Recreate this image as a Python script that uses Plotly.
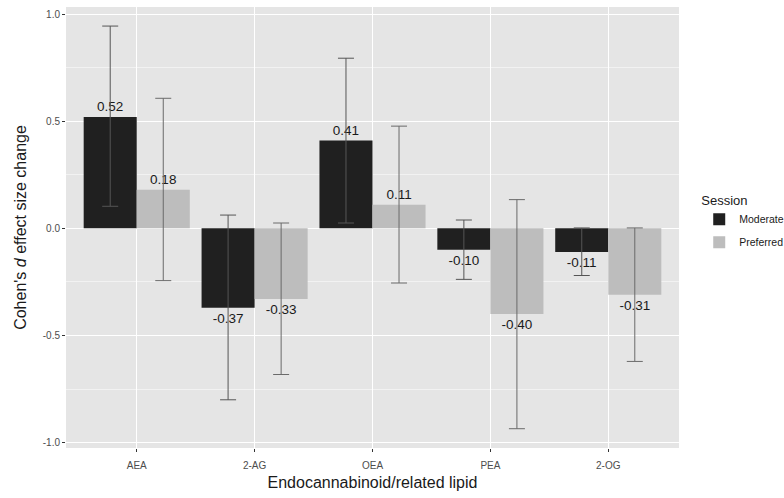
import plotly.graph_objects as go

categories = ["AEA", "2-AG", "OEA", "PEA", "2-OG"]
moderate = [0.52, -0.37, 0.41, -0.10, -0.11]
preferred = [0.18, -0.33, 0.11, -0.40, -0.31]
mod_upper = [0.944, 0.062, 0.794, 0.039, 0.002]
mod_lower = [0.103, -0.800, 0.025, -0.238, -0.220]
pref_upper = [0.607, 0.025, 0.477, 0.134, 0.002]
pref_lower = [-0.244, -0.682, -0.255, -0.935, -0.621]

def errs(vals, up, lo):
    return [u - v for u, v in zip(up, vals)], [v - l for v, l in zip(vals, lo)]

mu, ml = errs(moderate, mod_upper, mod_lower)
pu, pl = errs(preferred, pref_upper, pref_lower)

font = "Liberation Sans, Arial, sans-serif"
fig = go.Figure()
fig.add_trace(go.Bar(
    x=categories, y=moderate, name="Moderate", legendgroup="m",
    marker=dict(color="#202020", line=dict(width=0)),
    text=[f"{v:.2f}" for v in moderate], textposition="outside",
    textfont=dict(size=13.5, color="#1a1a1a", family=font),
    cliponaxis=False,
    error_y=dict(type="data", symmetric=False, array=mu, arrayminus=ml,
                 color="#555555", thickness=1, width=8),
))
fig.add_trace(go.Bar(
    x=categories, y=preferred, name="Preferred", legendgroup="p",
    marker=dict(color="#bdbdbd", line=dict(width=0)),
    text=[f"{v:.2f}" for v in preferred], textposition="outside",
    textfont=dict(size=13.5, color="#1a1a1a", family=font),
    cliponaxis=False,
    error_y=dict(type="data", symmetric=False, array=pu, arrayminus=pl,
                 color="#6a6a6a", thickness=1, width=8),
))

fig.update_layout(
    width=784, height=498,
    margin=dict(l=66, r=105, t=7, b=50, autoexpand=False),
    paper_bgcolor="white", plot_bgcolor="#e5e5e5",
    barmode="group", bargap=0.1, bargroupgap=0,
    font=dict(family=font, color="#1a1a1a"),
    legend=dict(
        title=dict(text="Session", font=dict(size=13, color="#1a1a1a")),
        font=dict(size=10.5, color="#1a1a1a"),
        x=1.033, xanchor="left", y=0.59, yanchor="top",
        bgcolor="rgba(0,0,0,0)", tracegroupgap=4,
    ),
    xaxis=dict(
        title=dict(text="Endocannabinoid/related lipid", font=dict(size=16, color="#1a1a1a"), standoff=6),
        automargin=False,
        range=[-0.6, 4.6], showgrid=True, gridcolor="white", gridwidth=1,
        ticks="outside", ticklen=3, tickcolor="#333333", ticklabelstandoff=5,
        tickfont=dict(size=10, color="#4d4d4d"), zeroline=False,
    ),
    yaxis=dict(
        title=dict(text="Cohen's <i>d</i> effect size change", font=dict(size=16, color="#1a1a1a"), standoff=12),
        automargin=False,
        range=[-1.025, 1.033], tickvals=[-1.0, -0.5, 0.0, 0.5, 1.0],
        ticktext=["-1.0", "-0.5", "0.0", "0.5", "1.0"],
        showgrid=True, gridcolor="white", gridwidth=1.2,
        minor=dict(tickvals=[-0.75, -0.25, 0.25, 0.75], showgrid=True, gridcolor="#f2f2f2", gridwidth=0.6),
        ticks="outside", ticklen=3, tickcolor="#333333",
        tickfont=dict(size=10, color="#4d4d4d"), zeroline=False,
    ),
)

fig.write_html("out.html", config={"displayModeBar": False},
               post_script="document.body.style.margin='0';")
